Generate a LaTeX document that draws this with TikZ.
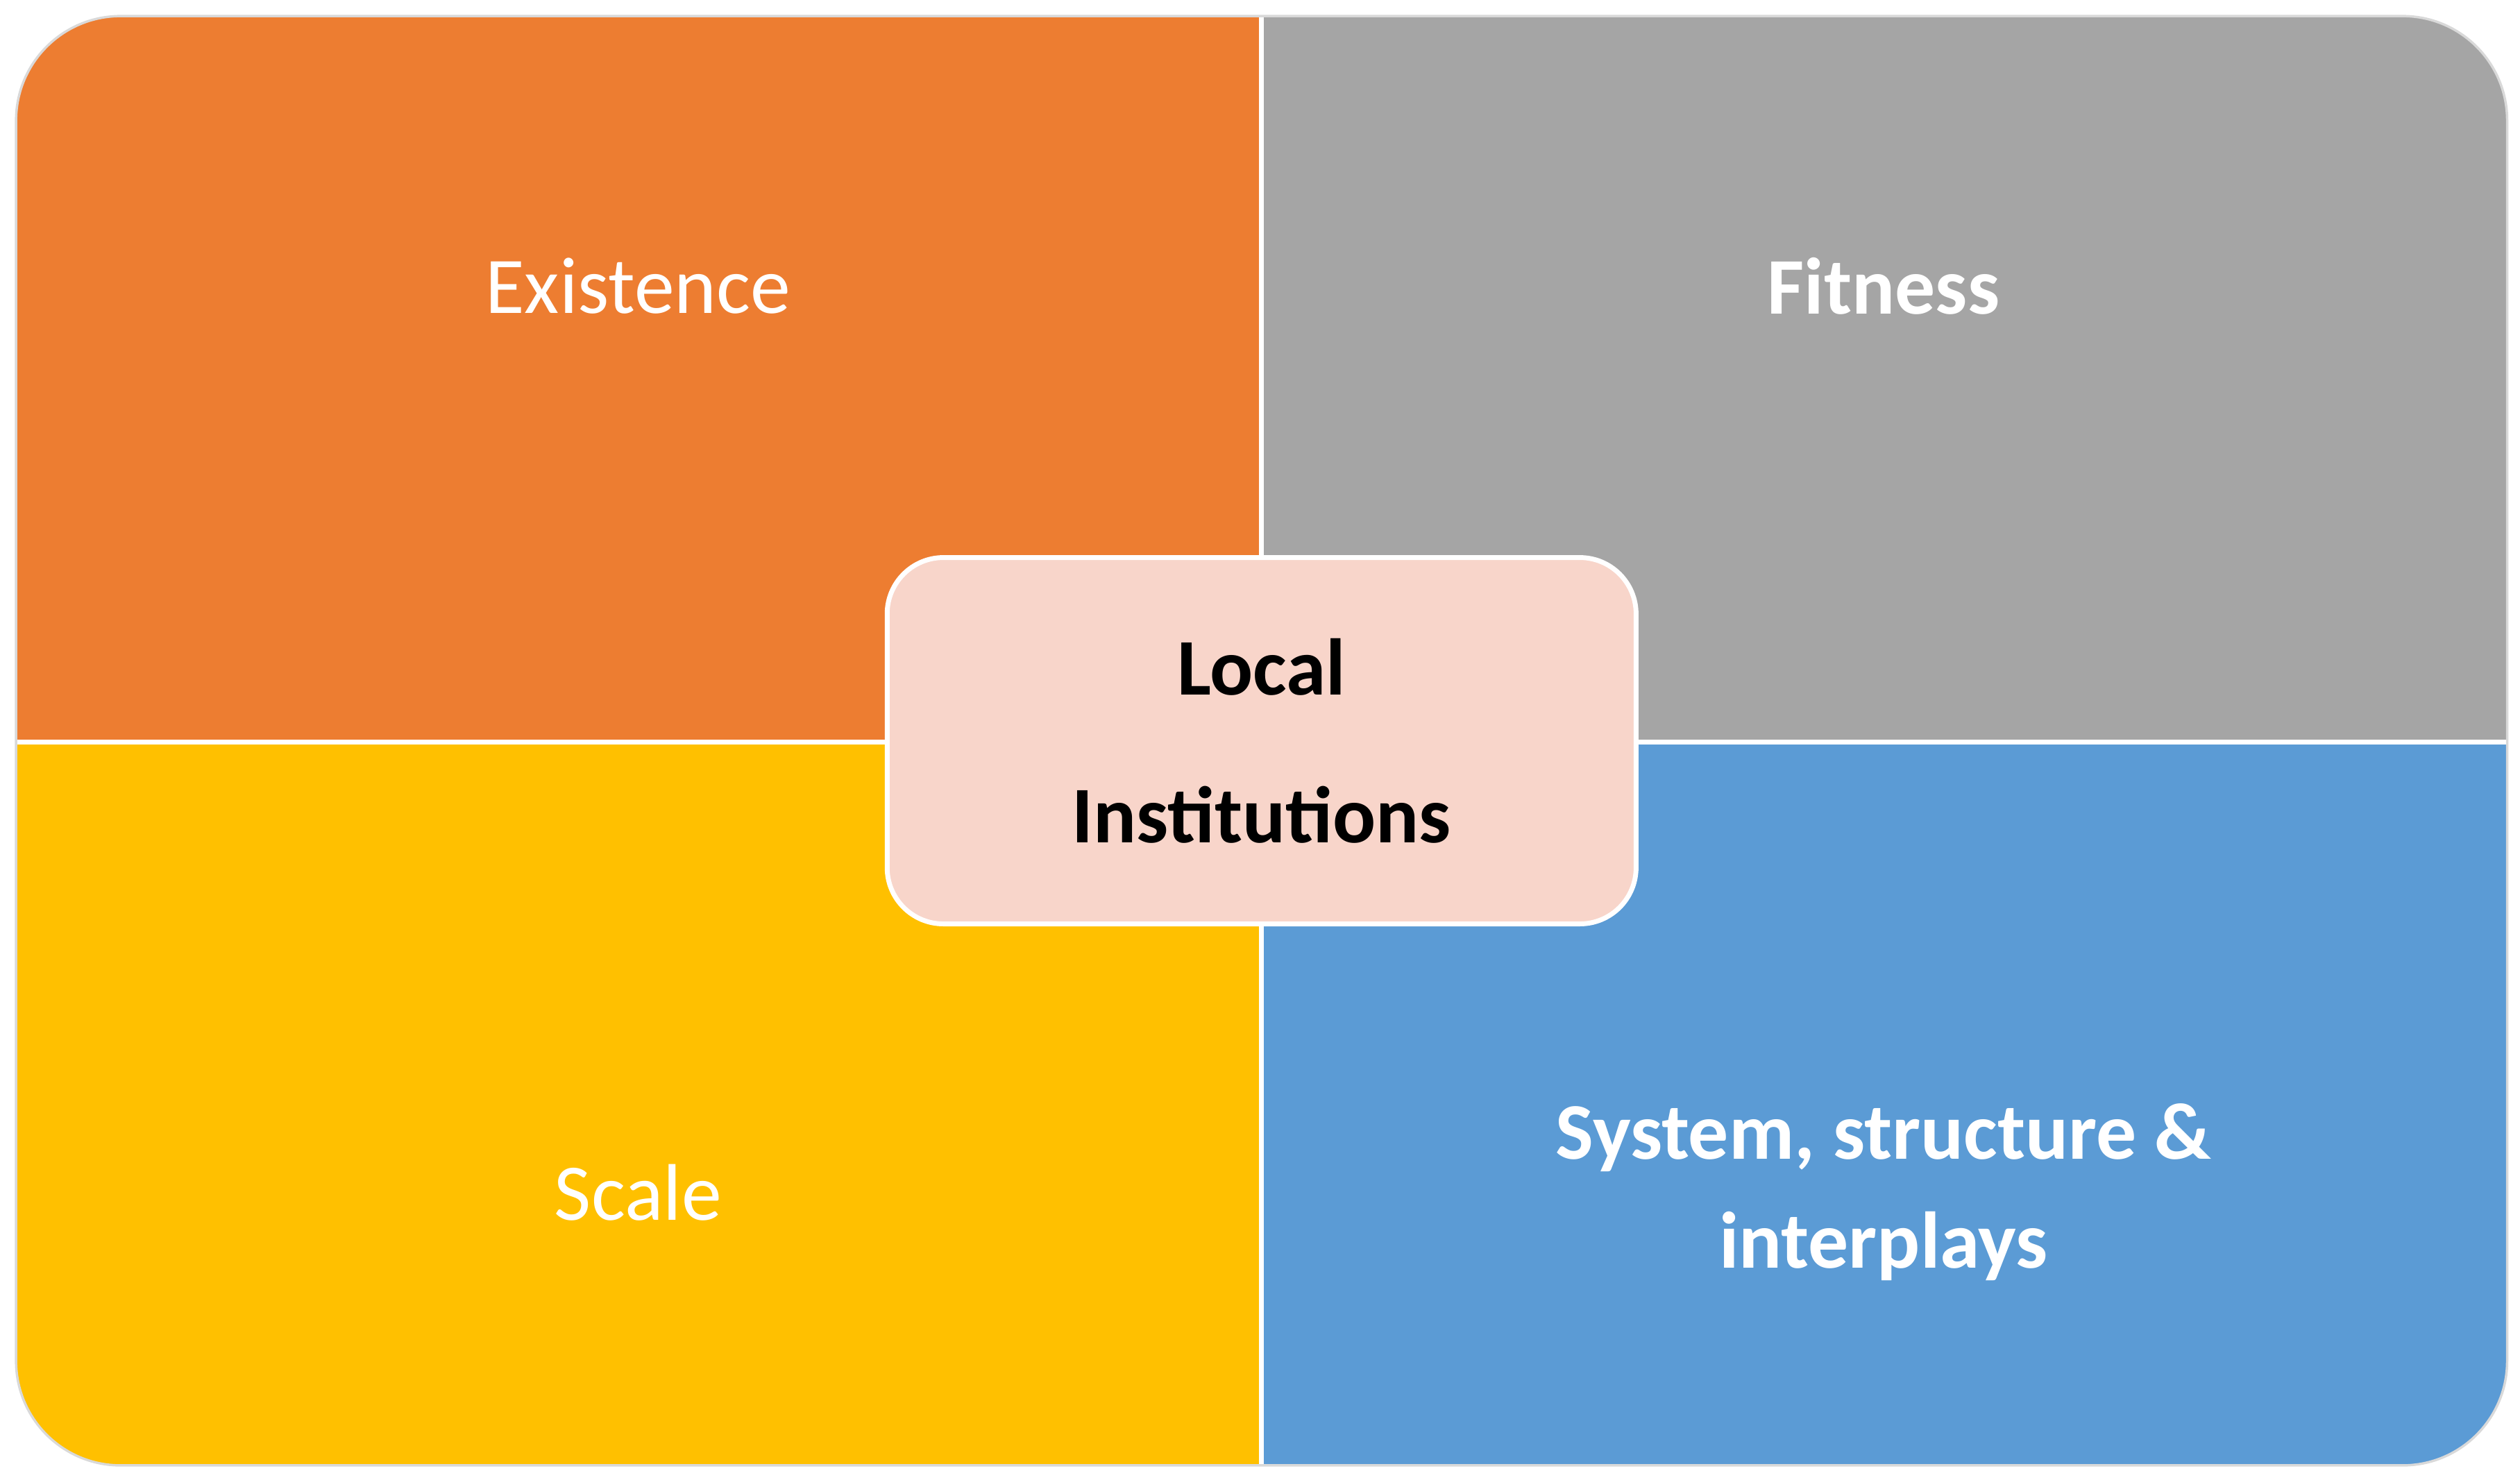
\documentclass[tikz,border=0pt]{standalone}
\usepackage{fontspec}
\setmainfont{Carlito}
\definecolor{qor}{HTML}{ED7D31}
\definecolor{qgr}{HTML}{A5A5A5}
\definecolor{qye}{HTML}{FFC000}
\definecolor{qbl}{HTML}{5B9BD5}
\definecolor{qpk}{HTML}{F8D5CA}
\begin{document}
\begin{tikzpicture}[x=1pt,y=-1pt,
  lab/.style={text=white,font=\fontsize{50}{60}\selectfont,align=center}]
\useasboundingbox (0,0) rectangle (1568,921);
\begin{scope}
\clip[rounded corners=65] (10,10) rectangle (1560,912);
\fill[qor] (10,10) rectangle (785,462);
\fill[qgr] (785,10) rectangle (1560,462);
\fill[qye] (10,462) rectangle (785,912);
\fill[qbl] (785,462) rectangle (1560,912);
\draw[white,line width=3] (785,10) -- (785,912) (10,462) -- (1560,462);
\end{scope}
\draw[black!15,line width=1.5,rounded corners=65] (10,10) rectangle (1560,912);
\node[lab] (ex) at (397,178) {Existence};
\node[lab,font=\bfseries\fontsize{50}{60}\selectfont] (fi) at (1172,178) {Fitness};
\node[lab] (sc) at (397,742) {Scale};
\node[lab,font=\bfseries\fontsize{50}{68}\selectfont] (sy) at (1172,742) {System, structure \&\\interplays};
\node[draw=white,line width=3,fill=qpk,rounded corners=35,minimum width=466,minimum height=228,
  align=center,font=\bfseries\fontsize{50}{92}\selectfont] (li) at (785,461) {Local\\Institutions};
\end{tikzpicture}
\end{document}
